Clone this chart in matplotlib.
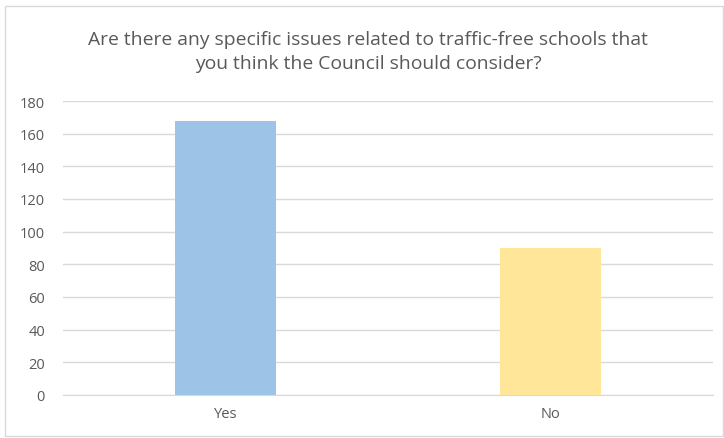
import matplotlib
matplotlib.use("Agg")
import matplotlib.pyplot as plt
from matplotlib.patches import Rectangle

categories = ["Yes", "No"]
values = [168, 90]
colors = ["#9DC3E6", "#FFE699"]
yticks = [0, 20, 40, 60, 80, 100, 120, 140, 160, 180]
title = "Are there any specific issues related to traffic-free schools that\nyou think the Council should consider?"

plt.rcParams["font.family"] = ["Open Sans", "DejaVu Sans"]

fig = plt.figure(figsize=(7.24, 4.39), dpi=100)
ax = fig.add_axes([63 / 724, 1 - 396 / 439, 650 / 724, 294 / 439])

x = list(range(len(categories)))
ax.bar(x, values, width=0.31, color=colors, zorder=3)
ax.set_xlim(-0.5, len(categories) - 0.5)
ax.set_ylim(0, 180)
ax.set_yticks(yticks)
ax.set_xticks(x)
ax.set_xticklabels(categories)
ax.grid(axis="y", color="#D9D9D9", linewidth=1, zorder=0)
for s in ["top", "right", "left"]:
    ax.spines[s].set_visible(False)
ax.spines["bottom"].set_color("#D9D9D9")
ax.tick_params(axis="both", length=0, colors="#595959", labelsize=10.5)
ax.tick_params(axis="y", pad=13)
ax.tick_params(axis="x", pad=8)

fig.text(368 / 724, 1 - 52 / 439, title, ha="center", va="center",
         fontsize=13.9, color="#595959", linespacing=1.4)

fig.patches.append(Rectangle((5 / 724, 2 / 439), 1 - 6 / 724, 1 - 9 / 439,
                             transform=fig.transFigure, fill=False,
                             edgecolor="#D9D9D9", linewidth=1))

fig.savefig("out.png", dpi=100)
